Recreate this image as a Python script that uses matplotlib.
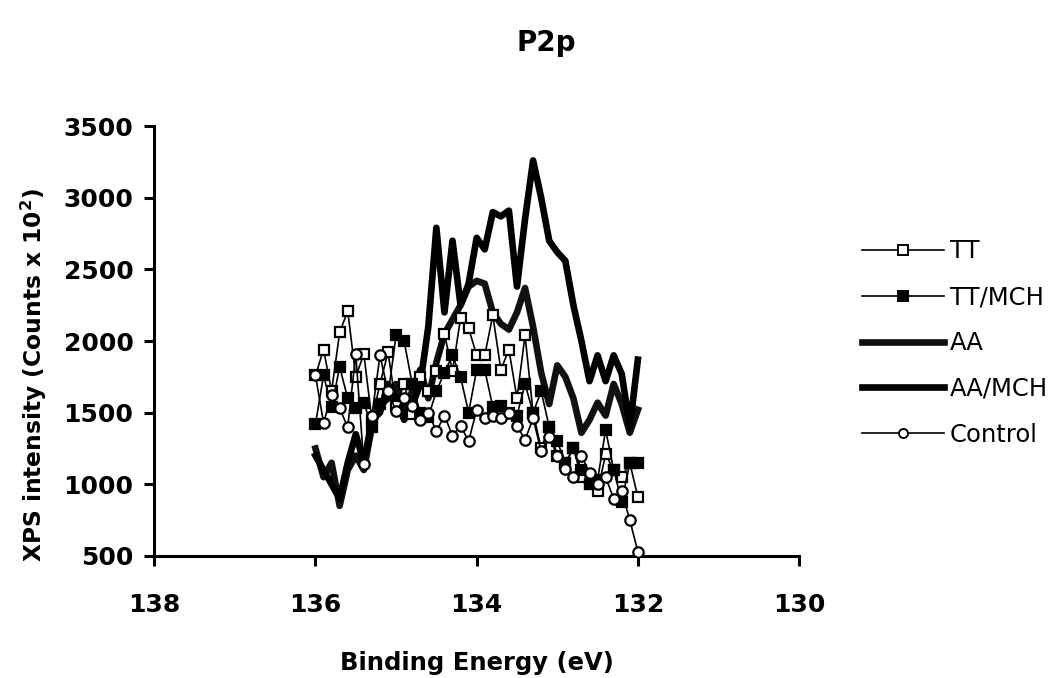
import numpy as np
import matplotlib
matplotlib.use("Agg")
import matplotlib.pyplot as plt

plt.rcParams['font.family'] = ['DejaVu Sans']

# Binding energy grid (eV), 136.0 -> 132.0
energy = [136.0, 135.9, 135.8, 135.7, 135.6, 135.5, 135.4, 135.3, 135.2, 135.1,
          135.0, 134.9, 134.8, 134.7, 134.6, 134.5, 134.4, 134.3, 134.2, 134.1,
          134.0, 133.9, 133.8, 133.7, 133.6, 133.5, 133.4, 133.3, 133.2, 133.1,
          133.0, 132.9, 132.8, 132.7, 132.6, 132.5, 132.4, 132.3, 132.2, 132.1,
          132.0]

tt = [1760, 1940, 1650, 2060, 2210, 1750, 1910, 1450, 1700, 1920,
      1550, 1700, 1490, 1750, 1650, 1790, 2050, 1790, 2160, 2090,
      1900, 1900, 2180, 1800, 1940, 1600, 2040, 1500, 1250, 1400,
      1200, 1150, 1250, 1050, 1000, 950, 1210, 1100, 1050, 1150,
      910]

tt_mch = [1420, 1760, 1540, 1820, 1600, 1530, 1570, 1400, 1560, 1620,
          2040, 2000, 1700, 1500, 1470, 1650, 1780, 1900, 1750, 1500,
          1800, 1800, 1540, 1550, 1500, 1480, 1700, 1500, 1650, 1400,
          1300, 1150, 1250, 1100, 1000, 1030, 1380, 1100, 880, 1150,
          1150]

aa = [1250, 1050, 1150, 850, 1100, 1200, 1100, 1400, 1550, 1600,
      1700, 1500, 1650, 1800, 1600, 1850, 2050, 2150, 2250, 2380,
      2420, 2400, 2200, 2120, 2080, 2200, 2370, 2100, 1780, 1560,
      1830, 1750, 1600, 1360, 1450, 1570, 1480, 1700, 1560, 1360,
      1520]

aa_mch = [1200, 1100, 1000, 900, 1150, 1350, 1150, 1450, 1500, 1700,
          1600, 1450, 1550, 1700, 2100, 2790, 2200, 2700, 2250, 2400,
          2720, 2640, 2900, 2870, 2910, 2380, 2850, 3260, 3000, 2700,
          2620, 2560, 2250, 2000, 1720, 1900, 1720, 1900, 1770, 1400,
          1870]

control = [1760, 1430, 1620, 1530, 1400, 1910, 1140, 1480, 1900, 1650,
           1510, 1600, 1550, 1450, 1500, 1370, 1480, 1340, 1410, 1300,
           1520, 1460, 1480, 1460, 1500, 1410, 1310, 1460, 1230, 1330,
           1200, 1110, 1050, 1200, 1080, 1000, 1050, 900, 950, 750,
           530]

x_ticks = [138, 136, 134, 132, 130]
y_ticks = [500, 1000, 1500, 2000, 2500, 3000, 3500]

fig = plt.figure(figsize=(10.64, 6.78), dpi=100)
ax = fig.add_axes([0.145, 0.180, 0.606, 0.634])

ax.plot(energy, aa, color='#111111', lw=4.8, label='AA', zorder=2,
        solid_joinstyle='round')
ax.plot(energy, aa_mch, color='black', lw=4.8, label='AA/MCH', zorder=2,
        solid_joinstyle='round')
ax.plot(energy, tt, color='black', lw=1.2, marker='s', ms=7.5,
        mfc='white', mec='black', mew=1.6, label='TT', zorder=3)
ax.plot(energy, tt_mch, color='black', lw=1.2, marker='s', ms=7.5,
        mfc='black', mec='black', mew=1.6, label='TT/MCH', zorder=3)
ax.plot(energy, control, color='black', lw=1.2, marker='o', ms=7.5,
        mfc='white', mec='black', mew=1.6, label='Control', zorder=4)

ax.set_xlim(138, 130)
ax.set_ylim(500, 3500)
ax.set_xticks(x_ticks)
ax.set_yticks(y_ticks)
for s in ['top', 'right']:
    ax.spines[s].set_visible(False)
for s in ['left', 'bottom']:
    ax.spines[s].set_linewidth(2.2)
ax.tick_params(axis='both', direction='out', length=7, width=2.2,
               labelsize=18, pad=8)
ax.tick_params(axis='x', pad=20)
for lab in ax.get_xticklabels() + ax.get_yticklabels():
    lab.set_fontweight('bold')

ax.set_xlabel('Binding Energy (eV)', fontsize=17.5, fontweight='bold', labelpad=24)
ax.set_ylabel('XPS intensity (Counts x 10$^\\mathbf{2}$)', fontsize=16.8,
              fontweight='bold')
ax.yaxis.set_label_coords(-0.163, 0.42)

fig.text(0.513, 0.937, 'P2p', ha='center', va='center', fontsize=20,
         fontweight='bold')

handles, labels = ax.get_legend_handles_labels()
order = ['TT', 'TT/MCH', 'AA', 'AA/MCH', 'Control']
hl = dict(zip(labels, handles))
leg = ax.legend([hl[k] for k in order], order, loc='upper left',
                bbox_to_anchor=(0.799, 0.665), bbox_transform=fig.transFigure,
                frameon=False, fontsize=17.5, handlelength=3.35,
                handletextpad=0.25, labelspacing=0.9, numpoints=1,
                borderpad=0)
for h in leg.legend_handles:
    if h.get_marker() not in (None, 'None', ''):
        h.set_markersize(6.5)
        h.set_markeredgewidth(1.4)

fig.savefig('out.png', dpi=100)
